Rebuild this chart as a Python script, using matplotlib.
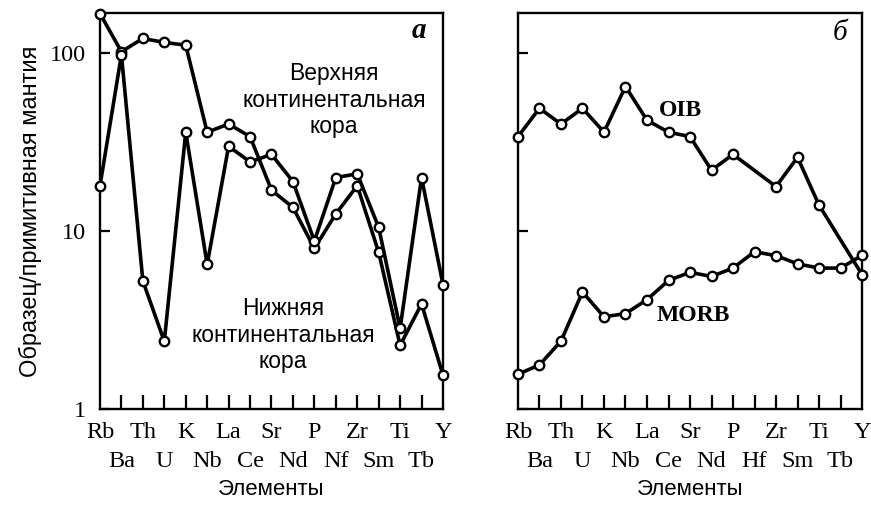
import matplotlib
matplotlib.use('Agg')
import matplotlib.pyplot as plt
from matplotlib.ticker import FixedLocator, NullLocator

# Элементы (ось X)
elements_a = ['Rb', 'Ba', 'Th', 'U', 'K', 'Nb', 'La', 'Ce', 'Sr', 'Nd', 'P', 'Nf', 'Zr', 'Sm', 'Ti', 'Tb', 'Y']
elements_b = ['Rb', 'Ba', 'Th', 'U', 'K', 'Nb', 'La', 'Ce', 'Sr', 'Nd', 'P', 'Hf', 'Zr', 'Sm', 'Ti', 'Tb', 'Y']

# панель а: верхняя и нижняя континентальная кора
upper_crust = [167, 102, 121, 115, 111, 36, 40, 34, 17, 13.6, 8.0, 12.5, 18, 7.6, 2.28, 3.9, 1.55]
lower_crust = [18, 98, 5.25, 2.4, 36, 6.5, 30, 24.5, 27, 19, 8.8, 20, 21, 10.5, 2.84, 20, 5.0]

# панель б: OIB и MORB
oib_elements = ['Rb', 'Ba', 'Th', 'U', 'K', 'Nb', 'La', 'Ce', 'Sr', 'Nd', 'P', 'Zr', 'Sm', 'Ti', 'Y']
oib = [34, 49, 40, 49, 36, 65, 42, 36, 34, 22, 27, 17.8, 26, 14, 5.7]
morb = [1.57, 1.77, 2.41, 4.55, 3.3, 3.44, 4.12, 5.28, 5.87, 5.56, 6.2, 7.66, 7.28, 6.55, 6.2, 6.2, 7.3]

serif = 'Liberation Serif'
sans = 'Liberation Sans'

fig = plt.figure(figsize=(8.71, 5.05), dpi=100)
ax1 = fig.add_axes([0.1148, 0.190, 0.3938, 0.784])
ax2 = fig.add_axes([0.5947, 0.190, 0.3950, 0.784])

line_kw = dict(color='black', lw=2.6, marker='o', ms=6.8, mfc='white', mec='black', mew=1.7, clip_on=False, zorder=3)

x = list(range(len(elements_a)))
ax1.plot(x, upper_crust, **line_kw)
ax1.plot(x, lower_crust, **line_kw)

x_oib = [elements_b.index(e) for e in oib_elements]
ax2.plot(x_oib, oib, **line_kw)
ax2.plot(x, morb, **line_kw)

for ax, names in ((ax1, elements_a), (ax2, elements_b)):
    ax.set_yscale('log')
    ax.set_ylim(1, 168)
    ax.set_xlim(0, 16)
    for s in ax.spines.values():
        s.set_linewidth(1.7)
    # верхний ряд подписей - чётные, нижний - нечётные
    even = list(range(0, len(names), 2))
    odd = list(range(1, len(names), 2))
    ax.xaxis.set_major_locator(FixedLocator(even))
    ax.xaxis.set_minor_locator(FixedLocator(odd))
    ax.set_xticklabels([names[i] for i in even], fontfamily=serif, fontsize=17.5)
    ax.set_xticklabels([names[i] for i in odd], minor=True, fontfamily=serif, fontsize=17.5)
    ax.tick_params(axis='x', which='both', direction='in', length=10, width=1.6)
    ax.tick_params(axis='x', which='major', pad=9.5)
    ax.tick_params(axis='x', which='minor', pad=30)
    ax.set_yticks([1, 10, 100])
    ax.yaxis.set_minor_locator(NullLocator())
    ax.tick_params(axis='y', direction='in', length=7, width=1.6, pad=10)
    ax.set_xlabel('Элементы', fontfamily=sans, fontsize=16, labelpad=5)

ax1.set_yticklabels(['1', '10', '100'], fontfamily=serif, fontsize=17.5)
ax2.set_yticklabels([])
# крайние штрихи совпадают с рамкой
for ax in (ax1, ax2):
    ticks = ax.xaxis.get_major_ticks()
    ticks[0].tick1line.set_visible(False)
    ticks[-1].tick1line.set_visible(False)

ax1.set_ylabel('Образец/примитивная мантия', fontfamily=sans, fontsize=17, labelpad=6)

ax1.text(0.93, 0.955, 'а', transform=ax1.transAxes, fontfamily=serif, fontsize=21,
         style='italic', fontweight='bold', ha='center', va='center')
ax2.text(0.935, 0.95, 'б', transform=ax2.transAxes, fontfamily=serif, fontsize=21,
         style='italic', ha='center', va='center')

ax1.text(0.682, 0.78, 'Верхняя\nконтинентальная\nкора', transform=ax1.transAxes,
         fontfamily=sans, fontsize=16.5, ha='center', va='center', linespacing=1.2)
ax1.text(0.534, 0.187, 'Нижняя\nконтинентальная\nкора', transform=ax1.transAxes,
         fontfamily=sans, fontsize=16.5, ha='center', va='center', linespacing=1.2)

ax2.text(0.471, 0.755, 'OIB', transform=ax2.transAxes, fontfamily=serif, fontsize=17,
         fontweight='bold', ha='center', va='center')
ax2.text(0.509, 0.237, 'MORB', transform=ax2.transAxes, fontfamily=serif, fontsize=17,
         fontweight='bold', ha='center', va='center')

fig.savefig('out.png', dpi=100)
